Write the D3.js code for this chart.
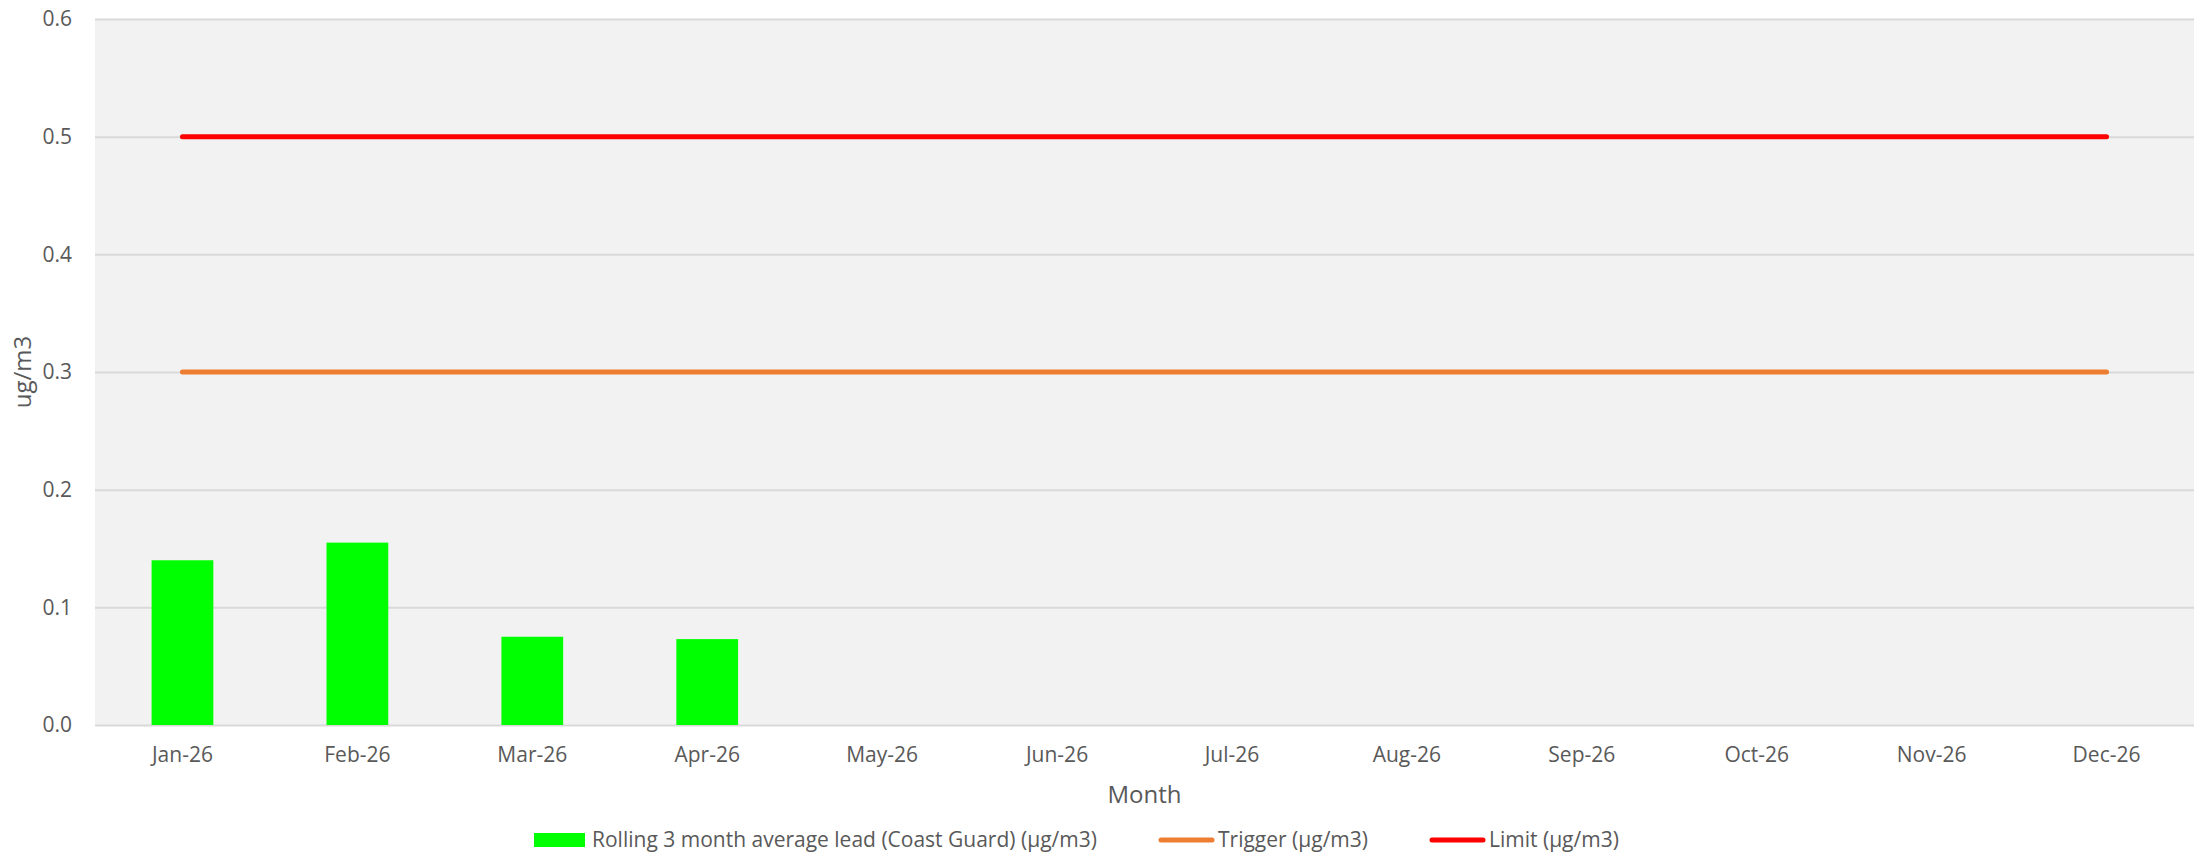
<!DOCTYPE html>
<html>
<head>
<meta charset="utf-8">
<script src="https://cdn.jsdelivr.net/npm/d3@7"></script>
<style>
  body { margin: 0; background: #fff; }
  text { font-family: "Open Sans", sans-serif; fill: #595959; }
</style>
</head>
<body>
<script>
const months = ["Jan-26", "Feb-26", "Mar-26", "Apr-26", "May-26", "Jun-26",
                "Jul-26", "Aug-26", "Sep-26", "Oct-26", "Nov-26", "Dec-26"];
const leadValues = [0.14, 0.155, 0.075, 0.073, null, null, null, null, null, null, null, null];
const triggerValues = [0.3, 0.3, 0.3, 0.3, 0.3, 0.3, 0.3, 0.3, 0.3, 0.3, 0.3, 0.3];
const limitValues = [0.5, 0.5, 0.5, 0.5, 0.5, 0.5, 0.5, 0.5, 0.5, 0.5, 0.5, 0.5];
const yTicks = [0, 0.1, 0.2, 0.3, 0.4, 0.5, 0.6];

const wSvg = 2203;
const hSvg = 858;
const plotLeft = 95, plotRight = 2194, plotTop = 19, plotBottom = 725;

let svg = d3.select("body")
  .append("svg")
  .attr("width", wSvg)
  .attr("height", hSvg);

let xScale = d3.scaleBand(months, [plotLeft, plotRight]);
let barScale = d3.scaleBand(months, [plotLeft, plotRight]).paddingInner(0.647).paddingOuter(0.3235);
let yScale = d3.scaleLinear([0, 0.6], [plotBottom, plotTop]);

// plot background
svg.append("rect")
  .attr("x", plotLeft)
  .attr("y", plotTop)
  .attr("width", plotRight - plotLeft)
  .attr("height", plotBottom - plotTop)
  .attr("fill", "#f2f2f2");

// gridlines + y labels
let yAxis = svg.append("g")
  .attr("transform", `translate(${plotLeft}, 0)`)
  .call(d3.axisLeft(yScale).tickValues(yTicks).tickFormat(d3.format(".1f"))
    .tickSize(-(plotRight - plotLeft)).tickPadding(23));
yAxis.select(".domain").remove();
yAxis.selectAll(".tick line").attr("stroke", "#d9d9d9").attr("stroke-width", 2);
yAxis.selectAll(".tick text").attr("font-size", "21px").attr("fill", "#595959");

// bars
svg.append("g")
  .selectAll("rect")
  .data(months.map((m, i) => ({ m, v: leadValues[i] })).filter(d => d.v !== null))
  .enter()
  .append("rect")
  .attr("x", d => barScale(d.m))
  .attr("width", barScale.bandwidth())
  .attr("y", d => yScale(d.v))
  .attr("height", d => yScale(0) - yScale(d.v))
  .attr("fill", "#00ff00");

let line = d3.line()
  .x((d, i) => xScale(months[i]) + xScale.bandwidth() / 2)
  .y(d => yScale(d));

svg.append("path")
  .attr("d", line(triggerValues))
  .attr("fill", "none")
  .attr("stroke", "#ed7d31")
  .attr("stroke-width", 5)
  .attr("stroke-linecap", "round");

svg.append("path")
  .attr("d", line(limitValues))
  .attr("fill", "none")
  .attr("stroke", "#ff0000")
  .attr("stroke-width", 5)
  .attr("stroke-linecap", "round");

// x axis labels
let xAxis = svg.append("g")
  .attr("transform", `translate(0, ${plotBottom})`)
  .call(d3.axisBottom(xScale).tickSize(0).tickPadding(22));
xAxis.select(".domain").remove();
xAxis.selectAll(".tick text").attr("font-size", "21px").attr("fill", "#595959");

// axis titles
svg.append("text")
  .attr("x", (plotLeft + plotRight) / 2)
  .attr("y", 803)
  .attr("text-anchor", "middle")
  .attr("font-size", "24px")
  .text("Month");

svg.append("text")
  .attr("transform", `translate(31, 372) rotate(-90)`)
  .attr("text-anchor", "middle")
  .attr("font-size", "24px")
  .text("ug/m3");

// legend
let legend = svg.append("g").attr("transform", "translate(0, 840)");
legend.append("rect")
  .attr("x", 534).attr("y", -7).attr("width", 51).attr("height", 14)
  .attr("fill", "#00ff00");
legend.append("text")
  .attr("x", 592).attr("y", 0).attr("dy", "0.35em")
  .attr("font-size", "21px")
  .text("Rolling 3 month average lead (Coast Guard) (µg/m3)");

legend.append("line")
  .attr("x1", 1161).attr("x2", 1212).attr("y1", 0).attr("y2", 0)
  .attr("stroke", "#ed7d31").attr("stroke-width", 5).attr("stroke-linecap", "round");
legend.append("text")
  .attr("x", 1218).attr("y", 0).attr("dy", "0.35em")
  .attr("font-size", "21px")
  .text("Trigger (µg/m3)");

legend.append("line")
  .attr("x1", 1432).attr("x2", 1483).attr("y1", 0).attr("y2", 0)
  .attr("stroke", "#ff0000").attr("stroke-width", 5).attr("stroke-linecap", "round");
legend.append("text")
  .attr("x", 1489).attr("y", 0).attr("dy", "0.35em")
  .attr("font-size", "21px")
  .text("Limit (µg/m3)");
</script>
</body>
</html>
